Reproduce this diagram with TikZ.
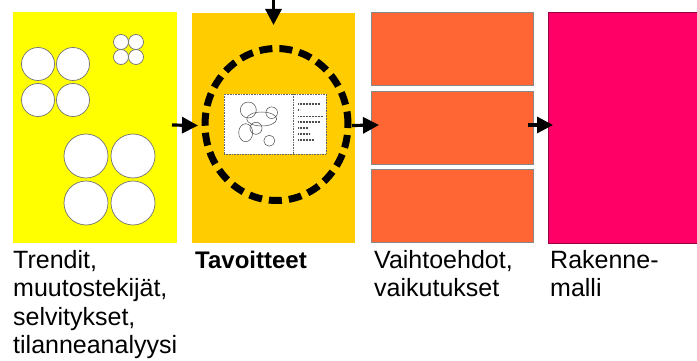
\documentclass[tikz,border=0pt]{standalone}
\usepackage{fontspec}
\setmainfont{Liberation Sans}
\usetikzlibrary{arrows.meta,calc,shapes.geometric}
\definecolor{cyel}{HTML}{FFFF00}
\definecolor{cgold}{HTML}{FFCC00}
\definecolor{corange}{HTML}{FF6633}
\definecolor{cpink}{HTML}{FF0066}
\definecolor{cedge}{HTML}{888888}
\tikzset{
  panel/.style={rectangle, inner sep=0pt, outer sep=0pt, anchor=north west},
  obox/.style={panel, fill=corange, draw=cedge, line width=0.8pt, minimum width=162pt, minimum height=73pt},
  bub/.style={fill=white, draw=black!55, line width=0.7pt},
  blob/.style={draw=black!70, line width=0.5pt},
  arr/.style={line width=3.2pt, -{Triangle[length=16pt,width=16pt]}},
  ring/.style={ellipse, draw=black, line width=7pt, dash pattern=on 13pt off 7pt, inner sep=0pt},
  lbl/.style={anchor=base west, align=left, inner sep=0pt, font=\fontsize{25}{28.5}\selectfont},
  txtline/.style={draw=black!70, line width=1.6pt, dash pattern=on 0.9pt off 0.6pt},
}
\begin{document}
\begin{tikzpicture}[x=1pt,y=-1pt]
\useasboundingbox (0,0) rectangle (697,361);
\fill[white] (0,0) rectangle (697,361);
% panels
\node[panel, fill=cyel, minimum width=164pt, minimum height=231pt] (yel) at (13,12) {};
\node[panel, fill=cgold, minimum width=163pt, minimum height=230pt] (gold) at (192,13) {};
\node[obox] (o1) at (371,12) {};
\node[obox] (o2) at (371,91) {};
\node[obox] (o3) at (371,169) {};
\node[panel, fill=cpink, draw=black!40!cpink, line width=0.8pt, minimum width=160pt, minimum height=231pt] (pink) at (548,12) {};
% bubbles in yellow panel
\foreach \cx/\cy in {121/42,136/42,121/57,136/57} \draw[bub] (\cx,\cy) circle[radius=7.5];
\foreach \cx/\cy in {38/64,73/64,38/100,73/100} \draw[bub] (\cx,\cy) circle[radius=16.5];
\foreach \cx/\cy in {86/156,133/156,86/203,133/203} \draw[bub] (\cx,\cy) circle[radius=22];
% inner picture in gold panel
\node[panel, fill=white, draw=black!60, densely dotted, line width=0.6pt, minimum width=102pt, minimum height=60pt] (pic) at (224,94) {};
\draw[black!60, densely dotted, line width=0.6pt] (pic.north west) ++(69,0) coordinate (sepT) -- (sepT |- pic.south);
\draw[blob] (248.3,110) circle[radius=8];
\draw[blob] (271.7,112.7) circle[radius=5.8];
\draw[blob] (261.7,119) ellipse[x radius=15, y radius=7];
\draw[blob] (245.7,132.7) ellipse[x radius=7, y radius=9];
\draw[blob] (256,128.3) circle[radius=6];
\draw[blob] (269.3,140.7) circle[radius=5.5];
\foreach \ly/\lx in {104/320,110/299.5,116.5/323,122/320,128/308,134/310,140/314}
  \draw[txtline] (298,\ly) -- (\lx,\ly);
% dashed ring
\node[ring, minimum width=143pt, minimum height=152pt] (ring) at (276.5,124.5) {};
% arrows
\coordinate (topin) at (273.5,0);
\draw[arr] (topin) -- ($(gold.north)+(0,12)$);
\draw[arr] ($(yel.east)+(-5,-2.5)$) -- ($(gold.west)+(6,-2.5)$);
\draw[arr] ($(gold.east)+(-3,-2.5)$) -- ($(o2.west)+(8,-2.5)$);
\draw[arr] ($(o2.east)+(-5,-2.5)$) -- ($(pink.west)+(5,-2.5)$);
% labels (anchored at the baseline of their last line)
\node[lbl] (l1) at (13,353.5) {Trendit,\\muutostekijät,\\selvitykset,\\tilanneanalyysi};
\node[lbl, font=\fontsize{24}{28.5}\selectfont\bfseries] (l2) at (195,268) {Tavoitteet};
\node[lbl] (l3) at (374,296.5) {Vaihtoehdot,\\vaikutukset};
\node[lbl] (l4) at (550,296.5) {Rakenne-\\malli};
\end{tikzpicture}
\end{document}
